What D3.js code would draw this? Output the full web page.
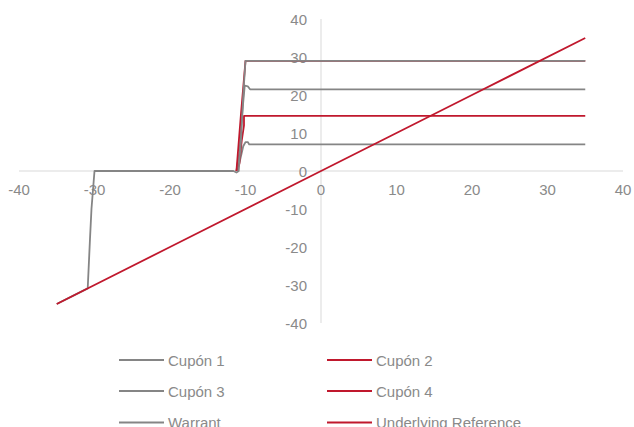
<!DOCTYPE html>
<html>
<head>
<meta charset="utf-8">
<script src="https://cdn.jsdelivr.net/npm/d3@7"></script>
<style>
  html, body { margin: 0; padding: 0; background: #fff; }
  svg { display: block; }
  text { font-family: "Liberation Sans", Arial, sans-serif; font-size: 15px; fill: #8a8a8a; }
</style>
</head>
<body>
<svg id="chart" width="634" height="427"></svg>
<script>
// ---- Data ----
const xTicks = [-40, -30, -20, -10, 0, 10, 20, 30, 40];
const yTicks = [-40, -30, -20, -10, 0, 10, 20, 30, 40];

const cupon1 = [[-11.2, 0], [-10.7, 3], [-10.3, 6.5], [-10.0, 7.6], [-9.7, 7.6], [-9.5, 7], [35, 7]];
const cupon2 = [[-11.2, 0], [-10.8, 2], [-10.5, 8], [-10.2, 12], [-10.2, 14.5], [35, 14.5]];
const cupon3 = [[-11.2, 0], [-10.8, 5], [-10.4, 16], [-10.1, 22.5], [-9.7, 22.3], [-9.4, 21.5], [35, 21.5]];
const cupon4 = [[-11.2, 0], [-10.6, 15], [-10.0, 29], [35, 29]];
const warrant = [[-35, -35], [-33, -33], [-30.9, -30.9], [-30.6, -18], [-30.4, -10], [-30, 0],
                 [-11.6, 0], [-11.2, -0.4], [-10.9, 0], [-10.6, 8], [-10.3, 20], [-10.0, 29], [35, 29]];
const underlying = [[-35, -35], [-20, -20], [0, 0], [20, 20], [35, 35]];

const seriesNames = ["Cupón 1", "Cupón 2", "Cupón 3", "Cupón 4", "Warrant", "Underlying Reference"];
const seriesData = [cupon1, cupon2, cupon3, cupon4, warrant, underlying];
const seriesColors = ["#858585", "#c0182d", "#858585", "#c0182d", "#858585", "#c0182d"];

// ---- Chart ----
const svg = d3.select("#chart");
const x = d3.scaleLinear().domain([-40, 40]).range([19, 623]);
const y = d3.scaleLinear().domain([-40, 40]).range([323, 19]);

// axes lines through origin
svg.append("line").attr("x1", x(-40)).attr("x2", x(40)).attr("y1", y(0)).attr("y2", y(0))
  .attr("stroke", "#d9d9d9").attr("stroke-width", 1);
svg.append("line").attr("x1", x(0)).attr("x2", x(0)).attr("y1", y(40)).attr("y2", y(-40))
  .attr("stroke", "#d9d9d9").attr("stroke-width", 1);

// x tick labels
svg.append("g").selectAll("text").data(xTicks).join("text")
  .attr("x", d => x(d)).attr("y", y(0) + 24)
  .attr("text-anchor", "middle")
  .text(d => d);

// y tick labels
svg.append("g").selectAll("text").data(yTicks).join("text")
  .attr("x", x(0) - 14).attr("y", d => y(d) + 6)
  .attr("text-anchor", "end")
  .text(d => d);

const line = d3.line().x(d => x(d[0])).y(d => y(d[1]));

svg.append("g").selectAll("path").data(seriesData).join("path")
  .attr("d", line)
  .attr("fill", "none")
  .attr("stroke", (d, i) => seriesColors[i])
  .attr("stroke-width", 1.8)
  .attr("stroke-linejoin", "round");

// legend
const legendCols = [119, 327];
const legendRows = [360, 391, 422.5];
const lg = svg.append("g").selectAll("g").data(seriesNames).join("g")
  .attr("transform", (d, i) => `translate(${legendCols[i % 2]},${legendRows[Math.floor(i / 2)]})`);
lg.append("line").attr("x1", 0).attr("x2", 45).attr("y1", 0).attr("y2", 0)
  .attr("stroke", (d, i) => seriesColors[i]).attr("stroke-width", 1.8);
lg.append("text").attr("x", 49).attr("y", 5.5).text(d => d);
</script>
</body>
</html>
